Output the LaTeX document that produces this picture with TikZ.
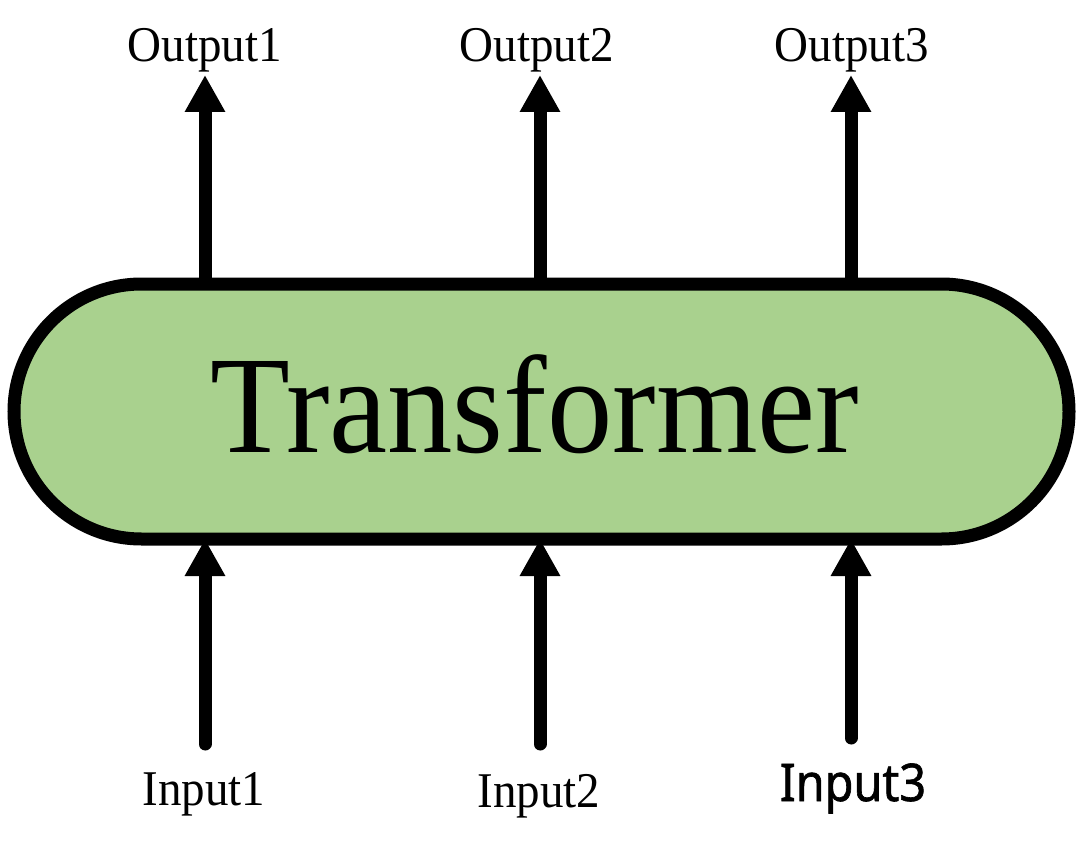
\documentclass[tikz,border=0pt]{standalone}
\usepackage{fontspec}
\setmainfont{Liberation Serif}[FakeStretch=0.94]
\newfontfamily\inpfont{Noto Sans}[FakeStretch=0.9,FakeBold=1.2]
\usetikzlibrary{arrows.meta,shapes.misc}
\definecolor{capgreen}{HTML}{A9D18E}
\begin{document}
\begin{tikzpicture}[x=1pt,y=-1pt,
  capsule/.style={rounded rectangle, draw=black, fill=capgreen, line width=13pt,
    minimum width=1055pt, minimum height=255pt, inner sep=0pt},
  flow/.style={line width=13pt, -{Triangle[width=38pt,length=37pt]}},
  inflow/.style={flow, line cap=round},
  lbl/.style={font=\fontsize{50}{56}\selectfont, anchor=base, inner sep=0pt},
  lblsans/.style={font=\inpfont\fontsize{52}{58}\selectfont, anchor=base, inner sep=0pt}]
\useasboundingbox (0,0) rectangle (1080,843);
\node[capsule] (T) at (541.5,411.5) {};
\node[anchor=base, inner sep=0pt, font=\fontsize{139}{150}\selectfont] (Tt) at (535,452) {Transformer};
\node[lbl] (o1) at (205,62) {Output1};
\node[lbl] (o2) at (537,62) {Output2};
\node[lbl] (o3) at (852,62) {Output3};
\node[lbl] (i1) at (204,805) {Input1};
\node[lbl] (i2) at (539,807) {Input2};
\node[lblsans] (i3) at (853,801) {Input3};
\coordinate (o1t) at (205,75);
\coordinate (o2t) at (540,75);
\coordinate (o3t) at (851,75);
\coordinate (i1b) at (205,744);
\coordinate (i2b) at (540,744);
\coordinate (i3b) at (851,738);
\draw[flow] (T.north -| o1t) -- (o1t);
\draw[flow] (T.north -| o2t) -- (o2t);
\draw[flow] (T.north -| o3t) -- (o3t);
\draw[inflow] (i1b) -- ([yshift=6.5pt]T.south -| i1b);
\draw[inflow] (i2b) -- ([yshift=6.5pt]T.south -| i2b);
\draw[inflow] (i3b) -- ([yshift=6.5pt]T.south -| i3b);
\end{tikzpicture}
\end{document}
